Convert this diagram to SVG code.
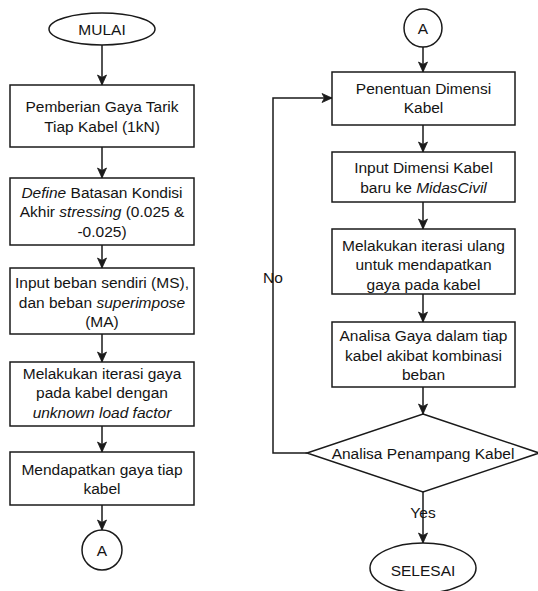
<svg xmlns="http://www.w3.org/2000/svg" width="538" height="591" viewBox="0 0 538 591">
  <style>
    .shape { fill: #ffffff; stroke: #1a1a1a; stroke-width: 1.5; }
    .edge { fill: none; stroke: #1a1a1a; stroke-width: 1.5; }
    text { font-family: "Liberation Sans", Arial, sans-serif; font-size: 15.5px; fill: #141414; text-anchor: middle; }
    .it { font-style: italic; }
  </style>
  <defs>
    <marker id="arrow" markerUnits="userSpaceOnUse" markerWidth="12" markerHeight="12" viewBox="0 0 12 12" refX="11" refY="6" orient="auto">
      <path d="M1,1.5 L11,6 L1,10.5 L3.5,6 Z" fill="#1a1a1a" stroke="#1a1a1a" stroke-width="0.8" stroke-linejoin="miter"/>
    </marker>
  </defs>
  <rect width="538" height="591" fill="#ffffff"/>

  <!-- connectors -->
  <g id="connectors">
    <path class="edge" d="M102,44 V85" marker-end="url(#arrow)"/>
    <path class="edge" d="M102,147 V178" marker-end="url(#arrow)"/>
    <path class="edge" d="M102,245 V268" marker-end="url(#arrow)"/>
    <path class="edge" d="M102,334 V362" marker-end="url(#arrow)"/>
    <path class="edge" d="M102,426 V452" marker-end="url(#arrow)"/>
    <path class="edge" d="M102,505 V530" marker-end="url(#arrow)"/>

    <path class="edge" d="M423,47 V72" marker-end="url(#arrow)"/>
    <path class="edge" d="M423,125 V152" marker-end="url(#arrow)"/>
    <path class="edge" d="M423,202 V229" marker-end="url(#arrow)"/>
    <path class="edge" d="M423,294 V322" marker-end="url(#arrow)"/>
    <path class="edge" d="M423,387 V414" marker-end="url(#arrow)"/>
    <path class="edge" d="M423,492 V543" marker-end="url(#arrow)"/>
    <path class="edge" d="M307,453 H273 V98 H332" marker-end="url(#arrow)"/>
    <text x="273" y="282.5">No</text>
    <text x="423" y="517.5">Yes</text>
  </g>

  <!-- left column -->
  <g id="mulai">
    <ellipse class="shape" cx="102" cy="29" rx="53" ry="16"/>
    <text x="102" y="34.5">MULAI</text>
  </g>
  <g id="pemberian-gaya">
    <rect class="shape" x="10" y="85" width="184" height="62"/>
    <text x="102" y="112">Pemberian Gaya Tarik</text>
    <text x="102" y="131.5">Tiap Kabel (1kN)</text>
  </g>
  <g id="define-batasan">
    <rect class="shape" x="10" y="178" width="184" height="67"/>
    <text x="102" y="197.5"><tspan class="it">Define</tspan> Batasan Kondisi</text>
    <text x="102" y="217">Akhir <tspan class="it">stressing</tspan> (0.025 &amp;</text>
    <text x="102" y="236.5">-0.025)</text>
  </g>
  <g id="input-beban">
    <rect class="shape" x="10" y="268" width="184" height="66"/>
    <text x="102" y="288">Input beban sendiri (MS),</text>
    <text x="102" y="307.5">dan beban <tspan class="it">superimpose</tspan></text>
    <text x="102" y="327">(MA)</text>
  </g>
  <g id="iterasi-gaya">
    <rect class="shape" x="10" y="362" width="184" height="64"/>
    <text x="102" y="378.5">Melakukan iterasi gaya</text>
    <text x="102" y="398">pada kabel dengan</text>
    <text x="102" y="417.5" class="it">unknown load factor</text>
  </g>
  <g id="gaya-tiap-kabel">
    <rect class="shape" x="10" y="452" width="184" height="53"/>
    <text x="102" y="474.5">Mendapatkan gaya tiap</text>
    <text x="102" y="494">kabel</text>
  </g>
  <g id="konektor-a-keluar">
    <circle class="shape" cx="102" cy="550" r="20"/>
    <text x="102" y="555.5">A</text>
  </g>

  <!-- right column -->
  <g id="konektor-a-masuk">
    <circle class="shape" cx="423" cy="28" r="19"/>
    <text x="423" y="33.5">A</text>
  </g>
  <g id="penentuan-dimensi">
    <rect class="shape" x="332" y="72" width="183" height="53"/>
    <text x="423.5" y="93.5">Penentuan Dimensi</text>
    <text x="423.5" y="113">Kabel</text>
  </g>
  <g id="input-dimensi">
    <rect class="shape" x="332" y="152" width="183" height="50"/>
    <text x="423.5" y="173">Input Dimensi Kabel</text>
    <text x="423.5" y="192.5">baru ke <tspan class="it">MidasCivil</tspan></text>
  </g>
  <g id="iterasi-ulang">
    <rect class="shape" x="332" y="229" width="183" height="65"/>
    <text x="423.5" y="250.5">Melakukan iterasi ulang</text>
    <text x="423.5" y="270">untuk mendapatkan</text>
    <text x="423.5" y="289.5">gaya pada kabel</text>
  </g>
  <g id="analisa-gaya">
    <rect class="shape" x="332" y="322" width="183" height="65"/>
    <text x="423.5" y="341">Analisa Gaya dalam tiap</text>
    <text x="423.5" y="360.5">kabel akibat kombinasi</text>
    <text x="423.5" y="380">beban</text>
  </g>
  <g id="analisa-penampang">
    <polygon class="shape" points="423,414 539,453 423,492 307,453"/>
    <text x="423" y="458.5">Analisa Penampang Kabel</text>
  </g>
  <g id="selesai">
    <ellipse class="shape" cx="423" cy="568" rx="53" ry="25"/>
    <text x="423" y="575.5">SELESAI</text>
  </g>
</svg>
